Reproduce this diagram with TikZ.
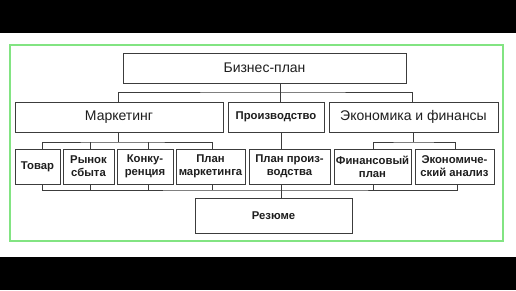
\documentclass[tikz,border=0pt]{standalone}
\usepackage{fontspec}
\setmainfont{Liberation Sans}
\definecolor{framegreen}{RGB}{130,228,130}
\definecolor{linegray}{RGB}{60,60,60}
\definecolor{textgray}{RGB}{30,30,30}
\begin{document}
\begin{tikzpicture}[x=1pt,y=-1pt,
  box/.style={draw=linegray, line width=1pt, inner sep=0pt, text=textgray},
  bigbox/.style={box, font=\fontsize{14}{16}\selectfont},
  smallbox/.style={box, align=center, font=\fontsize{11.3}{13}\selectfont\bfseries},
  conn/.style={draw=linegray, line width=0.9pt}]
\useasboundingbox (0,0) rectangle (516,290);
\fill[white] (0,0) rectangle (516,290);
\fill[black] (0,0) rectangle (516,33);
\fill[black] (0,257) rectangle (516,290);
\draw[framegreen, line width=1.3pt] (10,45) rectangle (503,241);

% level 1
\node[bigbox, minimum width=283pt, minimum height=30pt] (biz) at (264.5,68) {Бизнес-план};
% level 2
\node[bigbox, minimum width=208pt, minimum height=30pt] (mark) at (119,117) {Маркетинг};
\node[smallbox, minimum width=96pt, minimum height=30pt] (prod) at (276,117) {Производство};
\node[bigbox, minimum width=169pt, minimum height=30pt] (econ) at (413.5,117) {Экономика и финансы};
% level 3
\node[smallbox, minimum width=45pt, minimum height=35pt] (tovar) at (37.5,166.5) {Товар};
\node[smallbox, minimum width=51pt, minimum height=35pt] (rynok) at (88.5,166.5) {Рынок\\сбыта};
\node[smallbox, minimum width=56pt, minimum height=35pt] (konk) at (145,166.5) {Конку-\\ренция};
\node[smallbox, minimum width=69pt, minimum height=35pt] (planm) at (210.5,166.5) {План\\маркетинга};
\node[smallbox, minimum width=81pt, minimum height=35pt] (planp) at (289.5,166.5) {План произ-\\водства};
\node[smallbox, minimum width=77pt, minimum height=35pt] (fin) at (372.5,166.5) {Финансовый\\план};
\node[smallbox, minimum width=79pt, minimum height=35pt] (ekan) at (454.5,166.5) {Экономиче-\\ский анализ};
% summary
\node[smallbox, minimum width=157pt, minimum height=35pt] (rez) at (273.5,215.5) {Резюме};

% bus coordinates
\coordinate (topbus) at (280,92);
\coordinate (markbus) at (118,142);
\coordinate (econbus) at (413,142);
\coordinate (botbus) at (281,190);

% business plan to level 2
\draw[conn] (biz.south -| topbus) -- (topbus);
\draw[conn] (mark.north -| 118,0) |- (topbus) -| (econ.north -| 412,0);
\draw[conn] (topbus) -- (prod.north -| topbus);
% marketing group
\draw[conn] (mark.south -| markbus) -- (markbus);
\draw[conn] (tovar.north -| 42,0) |- (markbus) -| (planm.north -| 212,0);
\draw[conn] (rynok.north -| 90,0) -- (90,142);
\draw[conn] (konk.north -| 148,0) -- (148,142);
% production
\draw[conn] (prod.south -| 281,0) -- (planp.north -| 281,0);
% economics group
\draw[conn] (econ.south -| econbus) -- (econbus);
\draw[conn] (fin.north -| 373,0) |- (econbus) -| (ekan.north -| 455,0);
% bottom bus
\draw[conn] (tovar.south -| 42,0) |- (botbus) -| (ekan.south -| 457,0);
\draw[conn] (rynok.south -| 90,0) -- (90,190);
\draw[conn] (konk.south -| 148,0) -- (148,190);
\draw[conn] (planm.south -| 212,0) -- (212,190);
\draw[conn] (planp.south -| botbus) -- (botbus);
\draw[conn] (fin.south -| 373,0) -- (373,190);
\draw[conn] (botbus) -- (rez.north -| botbus);
\end{tikzpicture}
\end{document}
